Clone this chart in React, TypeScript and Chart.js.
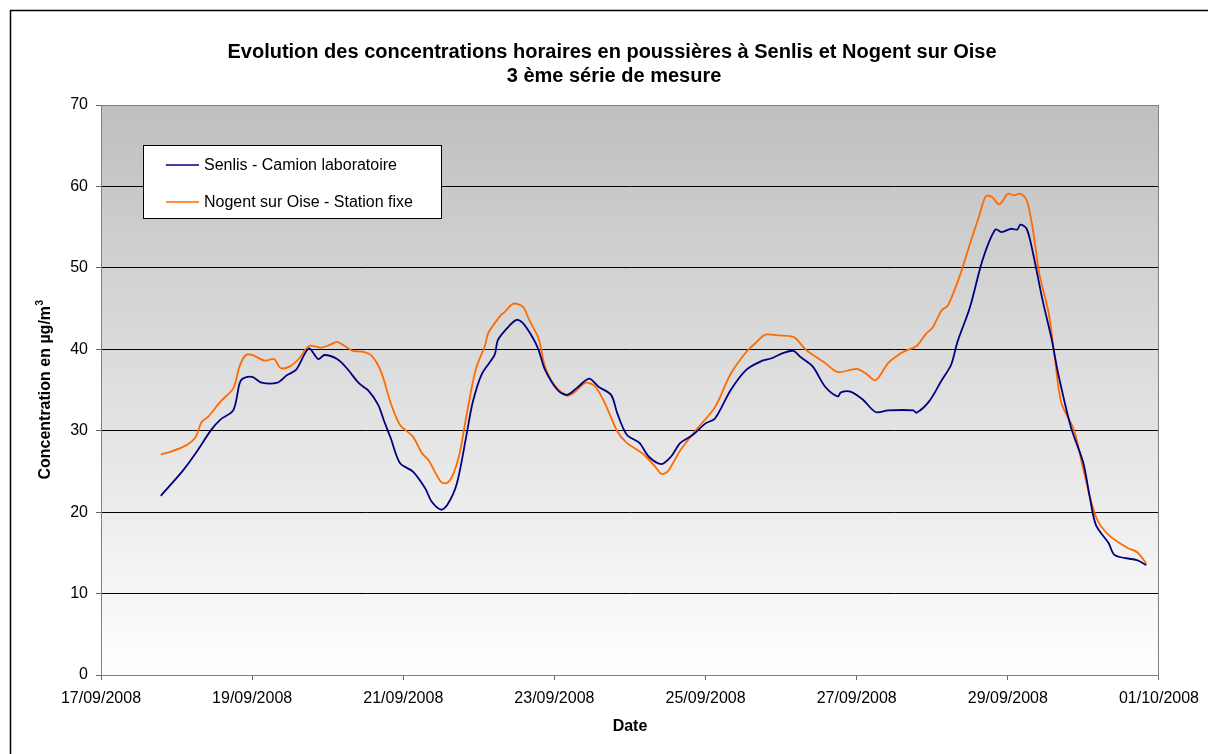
import React, { useEffect, useRef } from "react";
import { Chart, registerables } from "chart.js";

Chart.register(...registerables);

const FONT = '"Liberation Sans", Arial, sans-serif';

const titleLines = [
  "Evolution des concentrations horaires en poussières à Senlis et Nogent sur Oise",
  "3 ème série de mesure",
];
const xTitle = "Date";
const yTitleMain = "Concentration en µg/m";
const yTitleSup = "3";

// hours since 17/09/2008 00:00
const dateLabels = [
  "17/09/2008", "19/09/2008", "21/09/2008", "23/09/2008",
  "25/09/2008", "27/09/2008", "29/09/2008", "01/10/2008",
];

const senlisLabel = "Senlis - Camion laboratoire";
const senlisHours = [
  19, 26, 30, 35, 38, 42, 44, 45, 48, 51,
  56, 59, 62, 66, 69, 71, 75, 78, 82, 85,
  88, 90, 92, 95, 99, 103, 105, 108, 110, 113,
  116, 118, 121, 125, 126, 129, 132, 134, 137, 139,
  141, 145, 148, 151, 155, 158, 162, 164, 167, 171,
  174, 178, 181, 184, 188, 192, 195, 200, 205, 210,
  213, 217, 220, 222, 226, 230, 234, 235, 238, 242,
  246, 250, 258, 259, 263, 267, 270, 272, 276, 280,
  284, 286, 289, 291, 292, 294, 296, 299, 302, 304,
  308, 312, 314, 316, 320, 322, 329, 332,
];
const senlisValues = [
  22.0, 25.1, 27.2, 30.1, 31.4, 32.5, 35.8, 36.4, 36.6, 35.9,
  35.9, 36.8, 37.5, 40.1, 38.8, 39.3, 38.8, 37.7, 35.8, 34.9,
  33.2, 31.1, 29.1, 26.0, 25.0, 22.9, 21.3, 20.3, 20.9, 23.5,
  29.3, 33.4, 37.0, 39.3, 41.1, 42.6, 43.6, 43.2, 41.5, 39.9,
  37.5, 35.0, 34.4, 35.2, 36.4, 35.4, 34.4, 32.1, 29.5, 28.5,
  26.8, 25.9, 26.8, 28.5, 29.5, 30.9, 31.5, 35.0, 37.5, 38.6,
  38.9, 39.6, 39.8, 39.1, 37.9, 35.4, 34.2, 34.7, 34.8, 33.8,
  32.3, 32.5, 32.5, 32.2, 33.6, 36.2, 38.1, 40.9, 45.2, 51.0,
  54.7, 54.4, 54.8, 54.7, 55.3, 54.8, 51.8, 46.1, 41.1, 37.0,
  30.5, 26.0, 21.9, 18.4, 16.2, 14.7, 14.1, 13.5,
];

const nogentLabel = "Nogent sur Oise - Station fixe";
const nogentHours = [
  19, 22, 27, 30, 32, 34, 38, 42, 44, 46,
  48, 52, 55, 57, 60, 63, 66, 70, 73, 75,
  77, 80, 83, 86, 89, 92, 95, 99, 102, 104,
  108, 110, 112, 114, 116, 119, 122, 123, 127, 128,
  131, 134, 136, 139, 141, 144, 148, 150, 154, 157,
  160, 164, 167, 172, 176, 178, 180, 184, 189, 195,
  200, 205, 208, 211, 215, 220, 224, 230, 234, 240,
  243, 246, 250, 254, 256, 259, 262, 264, 267, 269,
  273, 276, 279, 281, 283, 285, 286, 288, 290, 292,
  294, 296, 298, 301, 303, 305, 309, 312, 316, 320,
  326, 329, 332,
];
const nogentValues = [
  27.1, 27.4, 28.2, 29.2, 31.1, 31.7, 33.6, 35.2, 37.9, 39.3,
  39.3, 38.6, 38.8, 37.7, 37.9, 38.9, 40.4, 40.2, 40.6, 40.9,
  40.5, 39.8, 39.7, 39.2, 37.2, 33.4, 30.7, 29.3, 27.2, 26.4,
  23.7, 23.6, 24.8, 27.4, 31.7, 37.5, 40.5, 42.0, 44.2, 44.5,
  45.6, 45.2, 43.6, 41.3, 37.9, 35.6, 34.3, 34.6, 35.9, 35.4,
  33.4, 29.9, 28.5, 27.2, 25.6, 24.7, 25.0, 27.6, 30.1, 32.9,
  37.0, 39.7, 40.8, 41.8, 41.7, 41.5, 39.9, 38.3, 37.2, 37.6,
  37.0, 36.2, 38.3, 39.5, 39.9, 40.4, 41.9, 42.6, 44.8, 45.4,
  49.3, 53.0, 56.5, 58.8, 58.7, 57.8, 58.0, 59.1, 58.9, 59.1,
  58.3, 54.6, 49.3, 44.4, 38.7, 33.4, 30.1, 25.2, 19.4, 17.2,
  15.6, 15.1, 13.7,
];

const decorPlugin = {
  id: "decor",
  beforeDraw(chart: any) {
    const { ctx, chartArea: a } = chart;
    ctx.save();
    const g = ctx.createLinearGradient(0, a.top, 0, a.bottom);
    g.addColorStop(0, "#bfbfbf");
    g.addColorStop(1, "#ffffff");
    ctx.fillStyle = g;
    ctx.fillRect(a.left, a.top, a.right - a.left, a.bottom - a.top);
    ctx.restore();
  },
  afterDraw(chart: any) {
    const { ctx, chartArea: a } = chart;
    ctx.save();
    // plot border
    ctx.strokeStyle = "#808080";
    ctx.lineWidth = 1;
    ctx.strokeRect(a.left + 0.5, a.top + 0.5, a.right - a.left - 1, a.bottom - a.top);
    // outer border
    ctx.strokeStyle = "#000";
    ctx.lineWidth = 1.5;
    ctx.beginPath();
    ctx.moveTo(10.5, 760);
    ctx.lineTo(10.5, 10.5);
    ctx.lineTo(1215, 10.5);
    ctx.stroke();
    // title
    ctx.fillStyle = "#000";
    ctx.textAlign = "center";
    ctx.textBaseline = "middle";
    ctx.font = "bold 20px " + FONT;
    ctx.fillText(titleLines[0], 612, 52);
    ctx.fillText(titleLines[1], 614, 76);
    // x title
    ctx.font = "bold 16px " + FONT;
    ctx.fillText(xTitle, (a.left + a.right) / 2, 727);
    // y title
    ctx.save();
    ctx.translate(46, (a.top + a.bottom) / 2);
    ctx.rotate(-Math.PI / 2);
    ctx.font = "bold 16px " + FONT;
    const wMain = ctx.measureText(yTitleMain).width;
    ctx.font = "bold 10px " + FONT;
    const wSup = ctx.measureText(yTitleSup).width;
    const start = -(wMain + wSup) / 2;
    ctx.textAlign = "left";
    ctx.font = "bold 16px " + FONT;
    ctx.fillText(yTitleMain, start, 0);
    ctx.font = "bold 10px " + FONT;
    ctx.fillText(yTitleSup, start + wMain + 0.5, -6);
    ctx.restore();
    // legend
    const lx = 143.5, ly = 145.5, lw = 298, lh = 73;
    ctx.fillStyle = "#fff";
    ctx.fillRect(lx, ly, lw, lh);
    ctx.strokeStyle = "#000";
    ctx.lineWidth = 1;
    ctx.strokeRect(lx, ly, lw, lh);
    ctx.font = "16px " + FONT;
    ctx.textAlign = "left";
    ctx.textBaseline = "middle";
    const rows = [165, 202];
    chart.data.datasets.forEach((ds: any, i: number) => {
      const y = rows[i];
      ctx.strokeStyle = ds.borderColor;
      ctx.lineWidth = 1.5;
      ctx.beginPath();
      ctx.moveTo(166, y);
      ctx.lineTo(199, y);
      ctx.stroke();
      ctx.fillStyle = "#000";
      ctx.fillText(ds.label, 204, y + 1);
    });
    ctx.restore();
  },
};

export default function App() {
  const ref = useRef<HTMLCanvasElement>(null);
  useEffect(() => {
    if (!ref.current) return;
    const chart = new Chart(ref.current, {
      type: "line",
      data: {
        datasets: [
          {
            label: senlisLabel,
            data: senlisHours.map((h, i) => ({ x: h, y: senlisValues[i] })),
            borderColor: "#000080",
            borderWidth: 1.8,
            pointRadius: 0,
            tension: 0.3,
            fill: false,
          },
          {
            label: nogentLabel,
            data: nogentHours.map((h, i) => ({ x: h, y: nogentValues[i] })),
            borderColor: "#ff6a00",
            borderWidth: 1.8,
            pointRadius: 0,
            tension: 0.3,
            fill: false,
          },
        ],
      },
      options: {
        responsive: false,
        animation: false,
        layout: { padding: { top: 105, right: 48, left: 0, bottom: 0 } },
        plugins: {
          legend: { display: false },
          title: { display: false },
          tooltip: { enabled: false },
        },
        scales: {
          x: {
            type: "linear",
            min: 0,
            max: 336,
            afterFit: (s: any) => {
              s.height = 79;
            },
            ticks: {
              stepSize: 48,
              autoSkip: false,
              maxRotation: 0,
              padding: 9,
              color: "#000",
              font: { family: FONT, size: 16 },
              callback: (v: any) => dateLabels[Math.round(Number(v) / 48)] ?? "",
            },
            grid: {
              drawOnChartArea: false,
              drawTicks: true,
              tickLength: 5,
              tickColor: "#666",
            },
            border: { color: "#666", width: 1 },
          },
          y: {
            min: 0,
            max: 70,
            afterFit: (s: any) => {
              s.width = 101;
            },
            ticks: {
              stepSize: 10,
              padding: 8,
              color: "#000",
              font: { family: FONT, size: 16 },
            },
            grid: {
              color: (c: any) =>
                c.tick && (c.tick.value === 0 || c.tick.value === 70) ? "rgba(0,0,0,0)" : "#000",
              tickLength: 5,
              tickColor: "#666",
              lineWidth: 1,
            },
            border: { color: "#666", width: 1 },
          },
        },
      },
      plugins: [decorPlugin],
    });
    return () => chart.destroy();
  }, []);
  return (
    <div style={{ position: "absolute", left: 0, top: 0, width: 1208, height: 754, background: "#fff" }}>
      <canvas ref={ref} width={1208} height={754} style={{ width: 1208, height: 754, display: "block" }} />
    </div>
  );
}
